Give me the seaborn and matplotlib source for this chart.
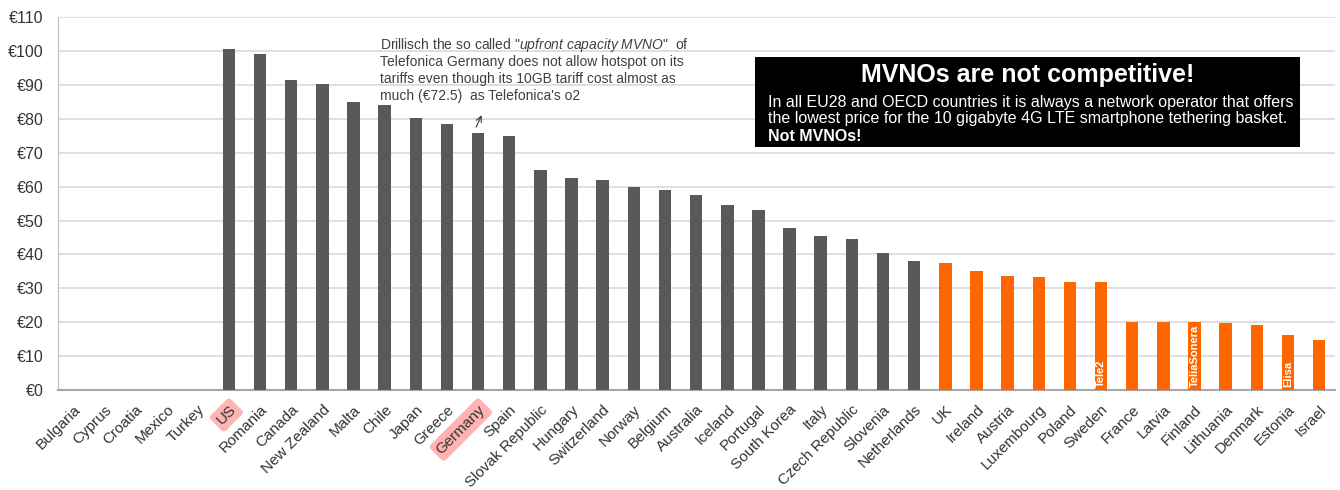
import numpy as np
import pandas as pd
import seaborn as sns
import matplotlib
matplotlib.use("Agg")
from matplotlib import pyplot as plt

# values (EUR per month, 10GB 4G LTE tethering basket)
countries = ["Bulgaria", "Cyprus", "Croatia", "Mexico", "Turkey", "US", "Romania",
             "Canada", "New Zealand", "Malta", "Chile", "Japan", "Greece", "Germany",
             "Spain", "Slovak Republic", "Hungary", "Switzerland", "Norway", "Belgium",
             "Australia", "Iceland", "Portugal", "South Korea", "Italy", "Czech Republic",
             "Slovenia", "Netherlands", "UK", "Ireland", "Austria", "Luxembourg", "Poland",
             "Sweden", "France", "Latvia", "Finland", "Lithuania", "Denmark", "Estonia",
             "Israel"]
prices = [0, 0, 0, 0, 0, 100.6, 99.2, 91.4, 90.2, 85.1, 84.0, 80.2, 78.4, 75.9,
          74.9, 65.0, 62.5, 61.9, 59.8, 59.1, 57.6, 54.6, 53.1, 47.8, 45.3, 44.6,
          40.4, 38.2, 37.6, 35.1, 33.7, 33.2, 32.0, 32.0, 20.2, 20.2, 20.2, 19.9,
          19.3, 16.3, 14.9]
n_grey = 28  # first 28 countries grey, rest orange
highlight = ["US", "Germany"]
bar_notes = {"Sweden": "Tele2", "Finland": "TeliaSonera", "Estonia": "Elisa"}

note_lines = ["Drillisch the so called \"$\\it{upfront\\ capacity\\ MVNO}$\"  of",
              "Telefonica Germany does not allow hotspot on its",
              "tariffs even though its 10GB tariff cost almost as",
              "much (€72.5)  as Telefonica's o2"]

df = pd.DataFrame({"country": countries, "price": prices,
                   "grp": ["a"] * n_grey + ["b"] * (len(countries) - n_grey)})

sns.set_style("white")
plt.rcParams["font.family"] = ["Liberation Sans", "DejaVu Sans"]
plt.rcParams["mathtext.fontset"] = "custom"
plt.rcParams["mathtext.rm"] = "Liberation Sans"
plt.rcParams["mathtext.it"] = "Liberation Sans:italic"

fig = plt.figure(figsize=(13.4, 4.9), dpi=100)
ax = fig.add_axes([0.043, 0.204, 0.953, 0.761])

sns.barplot(data=df, x="country", y="price", hue="grp",
            palette={"a": "#595959", "b": "#FF6600"}, dodge=False, saturation=1,
            width=0.4, linewidth=0, legend=False, ax=ax, zorder=3)

ax.set_ylim(0, 110)
ax.set_xlim(-0.5, len(countries) - 0.5)
ax.set_yticks(np.arange(0, 111, 10))
ax.set_yticklabels(["€%d" % v for v in range(0, 111, 10)], fontsize=11.5, color="#333333")
ax.yaxis.grid(True, color="#d9d9d9", lw=1.2, zorder=0)
ax.set_axisbelow(True)
ax.set_xlabel("")
ax.set_ylabel("")
for s in ["top", "right"]:
    ax.spines[s].set_visible(False)
ax.spines["left"].set_color("#bfbfbf")
ax.spines["bottom"].set_color("#a6a6a6")
ax.spines["bottom"].set_linewidth(1.5)
ax.tick_params(axis="y", length=0, pad=10)
ax.tick_params(axis="x", length=0, pad=9)

ax.set_xticks(range(len(countries)))
ax.set_xticklabels(countries, rotation=45, ha="right", rotation_mode="anchor",
                   fontsize=11, color="#333333")
for lbl in ax.get_xticklabels():
    if lbl.get_text() in highlight:
        lbl.set_bbox(dict(boxstyle="round,pad=0.25", fc="#ffb3b3", ec="none"))

# operator names inside the bars
for i, c in enumerate(countries):
    if c in bar_notes:
        ax.text(i, 0.8, bar_notes[c], rotation=90, ha="center", va="bottom",
                color="white", fontsize=8, fontweight="bold", zorder=5)

# Drillisch note, one line at a time so the italic part does not stretch the spacing
for k, line in enumerate(note_lines):
    ax.text(9.85, 100.6 - 5.0 * k, line, fontsize=10, color="#404040",
            va="baseline", ha="left")
ax.annotate("", xy=(13.15, 81.8), xytext=(12.9, 76.8),
            arrowprops=dict(arrowstyle="->", color="#333333", lw=0.8))

# black message box
ax.add_patch(plt.Rectangle((0.546, 0.651), 0.427, 0.242, transform=ax.transAxes,
                           facecolor="black", edgecolor="none", zorder=6))
ax.text(0.7595, 0.845, "MVNOs are not competitive!", transform=ax.transAxes,
        ha="center", va="center", color="white", fontsize=18, fontweight="bold", zorder=7)
ax.text(0.556, 0.772,
        "In all EU28 and OECD countries it is always a network operator that offers",
        transform=ax.transAxes, ha="left", va="center", color="white", fontsize=11.5,
        zorder=7)
ax.text(0.556, 0.729,
        "the lowest price for the 10 gigabyte 4G LTE smartphone tethering basket.",
        transform=ax.transAxes, ha="left", va="center", color="white", fontsize=11.5,
        zorder=7)
ax.text(0.556, 0.681, "Not MVNOs!", transform=ax.transAxes, ha="left", va="center",
        color="white", fontsize=11.5, fontweight="bold", zorder=7)

fig.savefig("out.png", dpi=100)
